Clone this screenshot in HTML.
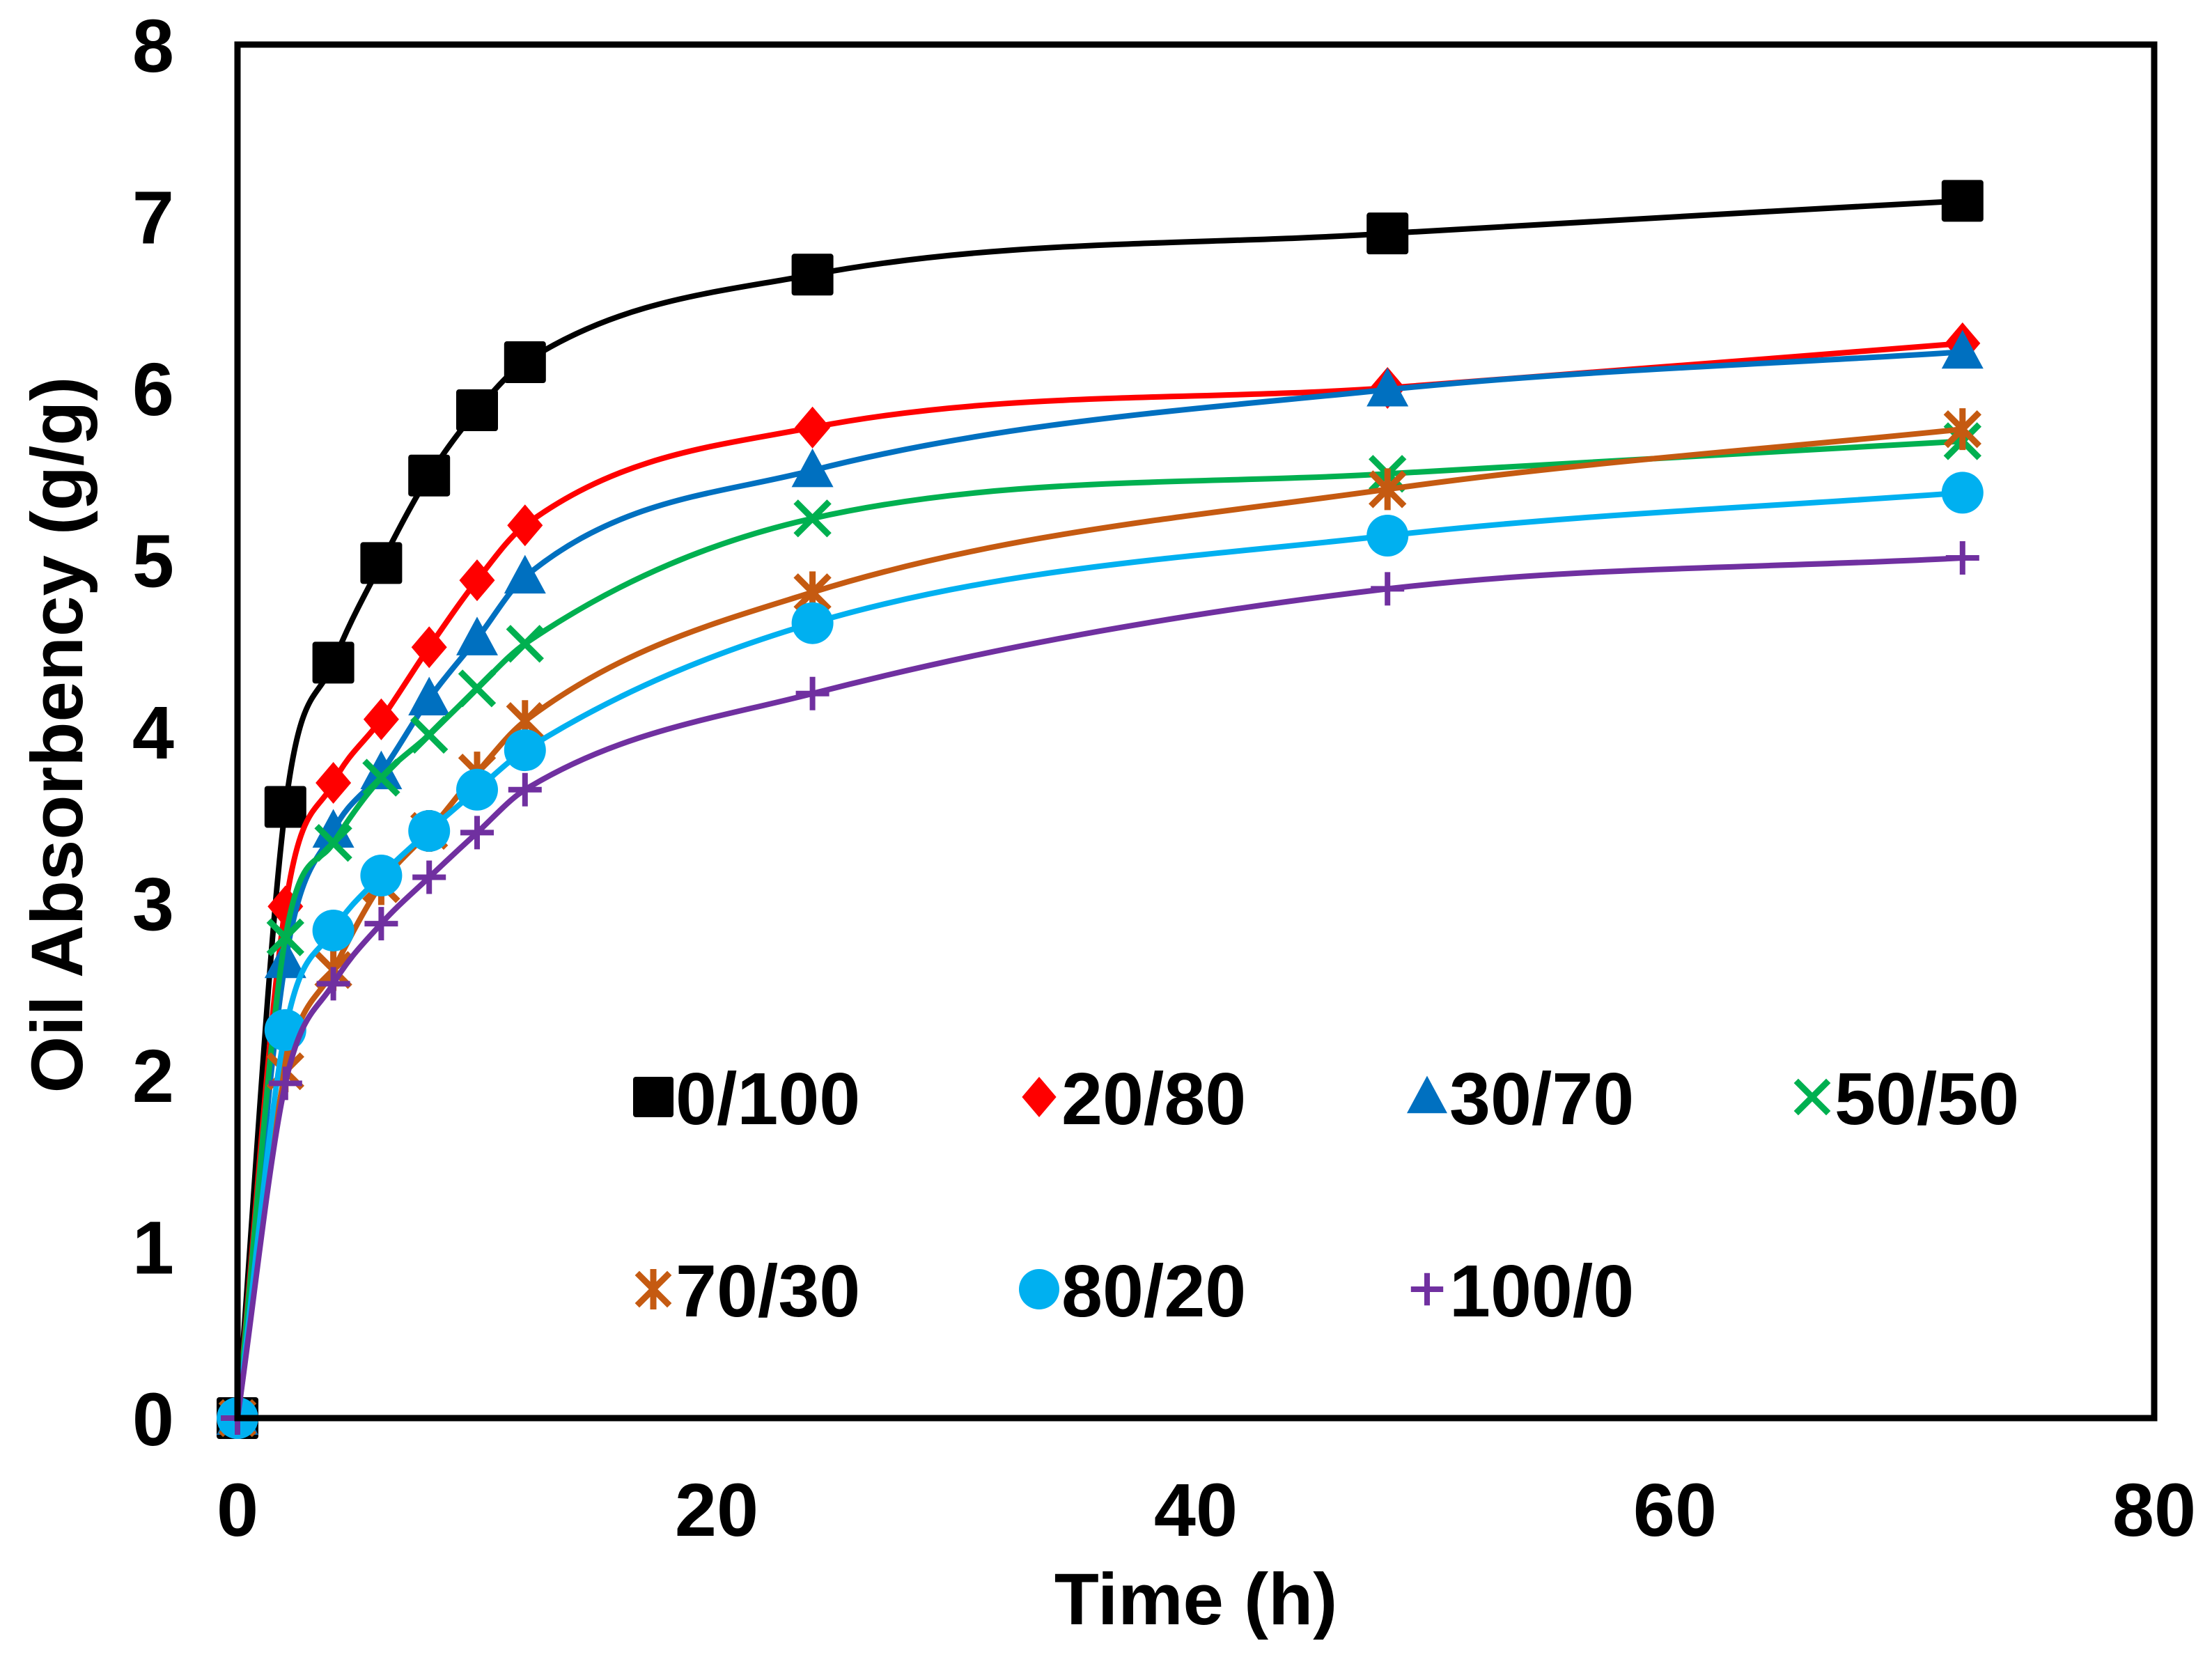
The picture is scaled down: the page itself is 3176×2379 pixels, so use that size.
<!DOCTYPE html>
<html><head><meta charset="utf-8"><style>
html,body{margin:0;padding:0;background:#fff;}
svg{display:block;}
text{font-family:"Liberation Sans",Arial,sans-serif;font-weight:bold;fill:#000;}
</style></head><body>
<svg id="chart" width="3176" height="2379" viewBox="0 0 3176 2379" xmlns="http://www.w3.org/2000/svg">
<rect x="0" y="0" width="3176" height="2379" fill="#fff"/>
<g id="series-layer"></g>
<rect x="341" y="64" width="2752" height="1972" fill="none" stroke="#000" stroke-width="9"/>
<g id="axes-layer"></g>
<text x="1717" y="2332" font-size="105" text-anchor="middle">Time (h)</text>
<text transform="translate(118,1055) rotate(-90)" font-size="105" text-anchor="middle">Oil Absorbency (g/g)</text>
<g id="legend-layer"></g>
</svg>
<script>
const times = [0,2,4,6,8,10,12,24,48,72];
const seriesNames = ["0/100","20/80","30/70","50/50","70/30","80/20","100/0"];
const s0_100 = [0,3.56,4.40,4.98,5.49,5.87,6.15,6.66,6.90,7.09];
const s20_80 = [0,2.98,3.70,4.07,4.49,4.88,5.20,5.77,6.00,6.26];
const s30_70 = [0,2.66,3.42,3.76,4.19,4.54,4.90,5.52,5.99,6.21];
const s50_50 = [0,2.80,3.35,3.73,3.98,4.25,4.51,5.24,5.50,5.69];
const s70_30 = [0,2.02,2.61,3.11,3.42,3.76,4.06,4.81,5.41,5.76];
const s80_20 = [0,2.26,2.84,3.16,3.42,3.66,3.89,4.63,5.14,5.39];
const s100_0 = [0,1.95,2.53,2.88,3.15,3.41,3.66,4.22,4.83,5.01];
const xTicks = [0,20,40,60,80];
const yTicks = [0,1,2,3,4,5,6,7,8];

const seriesData = [s0_100,s20_80,s30_70,s50_50,s70_30,s80_20,s100_0];
const colors = ["#000000","#ff0000","#0070c0","#00b050","#c55a11","#00b0f0","#7030a0"];
const markers = ["square","diamond","triangle","x","star","circle","plus"];
const PL=341, PR=3093, PT=64, PB=2036;
function xs(v){return PL+(v-0)/(80-0)*(PR-PL);}
function ys(v){return PB-(v-0)/(8-0)*(PB-PT);}
const NS="http://www.w3.org/2000/svg";
function mk(tag,attrs,parent){const e=document.createElementNS(NS,tag);for(const k in attrs)e.setAttribute(k,attrs[k]);parent.appendChild(e);return e;}

function monotonePath(px,py){
  const n=px.length;const d=[],m=new Array(n);
  for(let i=0;i<n-1;i++)d.push((py[i+1]-py[i])/(px[i+1]-px[i]));
  m[0]=d[0];m[n-1]=d[n-2];
  for(let i=1;i<n-1;i++){m[i]=(d[i-1]*d[i]<=0)?0:(d[i-1]+d[i])/2;}
  for(let i=0;i<n-1;i++){if(d[i]===0){m[i]=0;m[i+1]=0;continue;}
    const a=m[i]/d[i],b=m[i+1]/d[i],h=a*a+b*b;
    if(h>9){const t=3/Math.sqrt(h);m[i]=t*a*d[i];m[i+1]=t*b*d[i];}}
  let p="M"+px[0]+","+py[0];
  for(let i=0;i<n-1;i++){const h=(px[i+1]-px[i])/3;
    p+=" C"+(px[i]+h)+","+(py[i]+m[i]*h)+" "+(px[i+1]-h)+","+(py[i+1]-m[i+1]*h)+" "+px[i+1]+","+py[i+1];}
  return p;
}
function drawMarker(type,cx,cy,col,parent,sz){
  const s=sz||30;let e;
  if(type==="square")e=mk("rect",{x:cx-s,y:cy-s,width:2*s,height:2*s,fill:col,rx:4},parent);
  else if(type==="diamond")e=mk("polygon",{points:`${cx},${cy-s} ${cx+s*0.85},${cy} ${cx},${cy+s} ${cx-s*0.85},${cy}`,fill:col},parent);
  else if(type==="triangle")e=mk("polygon",{points:`${cx},${cy-s*1.05} ${cx+s},${cy+s*0.8} ${cx-s},${cy+s*0.8}`,fill:col},parent);
  else if(type==="circle")e=mk("circle",{cx:cx,cy:cy,r:s,fill:col},parent);
  else if(type==="x")e=mk("path",{d:`M${cx-s*0.8},${cy-s*0.8}L${cx+s*0.8},${cy+s*0.8}M${cx+s*0.8},${cy-s*0.8}L${cx-s*0.8},${cy+s*0.8}`,stroke:col,"stroke-width":9,fill:"none"},parent);
  else if(type==="plus")e=mk("path",{d:`M${cx-s*0.8},${cy}L${cx+s*0.8},${cy}M${cx},${cy-s*0.8}L${cx},${cy+s*0.8}`,stroke:col,"stroke-width":8,fill:"none"},parent);
  else e=mk("path",{d:`M${cx-s*0.8},${cy-s*0.8}L${cx+s*0.8},${cy+s*0.8}M${cx+s*0.8},${cy-s*0.8}L${cx-s*0.8},${cy+s*0.8}M${cx},${cy-s}L${cx},${cy+s}`,stroke:col,"stroke-width":9,fill:"none"},parent);
  return e;
}
const sl=document.getElementById("series-layer");
seriesData.forEach((vals,si)=>{
  const g=mk("g",{},sl);
  
  
  const px=times.map(xs),py=vals.map(ys);
  const path=mk("path",{d:monotonePath(px,py),stroke:colors[si],"stroke-width":8,fill:"none"},g);
  
  
  px.forEach((x,i)=>{
    const m=drawMarker(markers[si],x,py[i],colors[si],g,30);
    
    
  });
});
const al=document.getElementById("axes-layer");
xTicks.forEach(v=>{
  const t=mk("text",{x:xs(v),y:2205,"font-size":108,"text-anchor":"middle"},al);
  t.textContent=v;
  
  
});
yTicks.forEach(v=>{
  const t=mk("text",{x:250,y:ys(v)+39,"font-size":108,"text-anchor":"end"},al);
  t.textContent=v;
  
  
});
const ll=document.getElementById("legend-layer");
const legX=[938,1492,2049,2602,938,1492,2049];
const legY=[1575,1575,1575,1575,1851,1851,1851];
seriesNames.forEach((n,i)=>{
  const g=mk("g",{},ll);
  
  
  drawMarker(markers[i],legX[i],legY[i],colors[i],g,29);
  const t=mk("text",{x:legX[i]+32,y:legY[i]+39,"font-size":106},g);
  t.textContent=n;
});
</script>
</body></html>
